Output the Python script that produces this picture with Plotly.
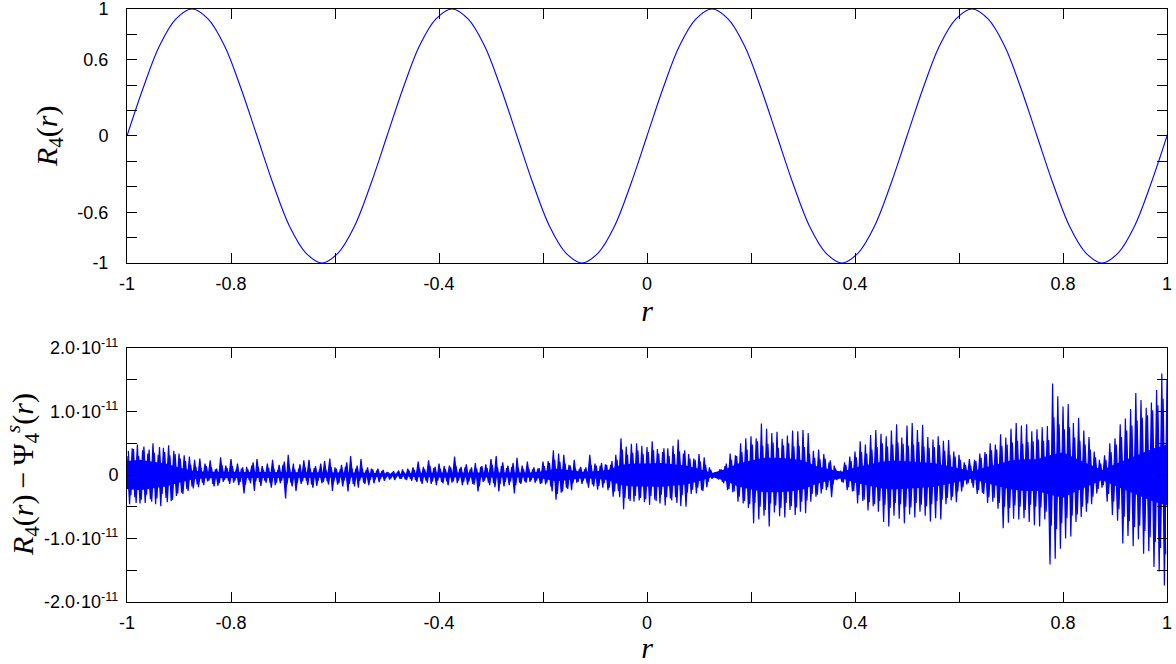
import plotly.graph_objects as go

# ---------------- data ----------------
# top panel: R_4(r), sampled every 1/32 in r
r_top = [round(-1 + k / 32, 6) for k in range(65)]
R4_vals = [
    0.00, 0.38, 0.71, 0.92, 1.00, 0.92, 0.71, 0.38, 0.00, -0.38, -0.71, -0.92, -1.00, -0.92, -0.71, -0.38,
    0.00, 0.38, 0.71, 0.92, 1.00, 0.92, 0.71, 0.38, 0.00, -0.38, -0.71, -0.92, -1.00, -0.92, -0.71, -0.38,
    0.00, 0.38, 0.71, 0.92, 1.00, 0.92, 0.71, 0.38, 0.00, -0.38, -0.71, -0.92, -1.00, -0.92, -0.71, -0.38,
    0.00, 0.38, 0.71, 0.92, 1.00, 0.92, 0.71, 0.38, 0.00, -0.38, -0.71, -0.92, -1.00, -0.92, -0.71, -0.38,
    0.00,
]

# bottom panel: R_4(r) - Psi_4^s(r), in units of 1e-12
UNIT = 1e-12
# samples on the grid r = -1, -0.995, ..., 1
r_err = [round(-1 + 0.005 * i, 6) for i in range(401)]
err_vals = [
    3.0, -4.6, 4.2, -3.5, 4.8, -4.5, 3.9, -4.4, 3.4, -3.8, 5.0, -4.6, 3.2, -4.9, 4.3, -3.6, 4.7, -4.1, 3.8, -3.3,
    3.4, -2.8, 3.1, -2.2, 2.9, -1.8, 2.4, -1.5, 2.6, -1.2, 1.8, -1.0, 2.3, -1.4, 0.9, -1.7, 2.8, -1.1, 1.5, -0.9,
    2.5, -1.2, 0.9, -1.6, 1.0, -2.9, 1.3, -0.8, 1.5, -2.5, 2.5, -1.1, 1.4, -0.9, 1.8, -1.2, 2.4, -1.6, 0.8, -1.3,
    1.6, -3.7, 3.2, -1.2, 1.8, -2.5, 1.0, -1.4, 2.3, -0.9, 2.4, -1.5, 1.1, -1.7, 0.8, -1.3, 2.2, -1.0, 2.6, -2.5,
    1.2, -1.5, 0.9, -1.8, 1.3, -2.6, 3.0, -1.4, 1.0, -2.0, 2.5, -1.2, 0.8, -1.6, 1.0, -1.3, 0.7, -1.1, 0.6, -0.9,
    0.5, -0.7, 0.4, -0.8, 0.5, -0.6, 0.9, -0.7, 1.0, -0.6, 1.2, -0.8, 2.1, -1.0, 1.3, -0.9, 2.3, -1.4, 1.1, -1.6,
    1.8, -1.1, 1.4, -1.0, 1.5, -1.2, 2.9, -1.3, 1.0, -1.6, 1.2, -1.5, 0.9, -1.4, 1.9, -2.6, 1.3, -1.1, 1.7, -1.2,
    2.5, -1.3, 3.0, -2.6, 1.4, -1.8, 1.1, -1.6, 1.3, -2.9, 2.7, -1.2, 1.5, -1.0, 2.1, -1.1, 0.9, -1.2, 1.0, -1.4,
    2.1, -1.5, 2.2, -1.8, 3.9, -3.9, 3.4, -2.8, 3.2, -2.0, 1.6, -2.4, 2.4, -1.2, 1.0, -1.4, 0.9, -1.3, 3.2, -1.5,
    1.8, -2.3, 1.5, -2.0, 1.7, -2.4, 1.6, -3.4, 3.2, -2.5, 5.8, -5.4, 4.5, -3.8, 4.9, -4.2, 5.0, -4.0, 4.6, -4.3,
    4.4, -4.7, 5.3, -3.9, 4.1, -4.5, 3.6, -4.8, 4.2, -3.7, 4.6, -3.5, 5.6, -4.9, 3.4, -5.0, 3.3, -3.0, 2.6, -2.9,
    3.3, -2.4, 2.8, -1.9, 1.2, -0.6, 0.3, -0.5, 0.9, -1.1, 1.4, -2.4, 3.4, -2.7, 3.1, -4.2, 5.0, -4.5, 5.8, -5.2,
    6.1, -7.6, 5.8, -7.0, 8.1, -6.4, 7.3, -8.1, 6.6, -5.9, 6.8, -6.5, 5.7, -6.7, 6.2, -5.5, 7.0, -6.3, 6.9, -5.8,
    7.1, -6.0, 6.6, -4.2, 3.8, -3.4, 4.0, -2.9, 3.3, -2.4, 2.0, -3.5, 1.5, -0.8, 0.5, -1.1, 2.0, -2.4, 2.9, -2.6,
    3.7, -4.5, 5.3, -4.1, 4.8, -5.6, 6.3, -4.9, 7.1, -5.8, 6.5, -7.4, 6.1, -8.1, 7.0, -6.4, 8.0, -6.9, 5.9, -7.6,
    7.8, -6.2, 8.2, -6.7, 7.1, -5.8, 7.9, -6.4, 6.0, -7.3, 5.6, -6.8, 6.1, -7.0, 5.4, -4.6, 5.5, -4.0, 3.7, -4.3,
    3.2, -2.6, 2.0, -1.5, 2.5, -1.3, 2.4, -3.0, 3.4, -2.8, 3.6, -4.4, 5.0, -4.2, 4.8, -5.3, 6.4, -8.4, 5.9, -7.5,
    7.3, -6.9, 8.2, -7.0, 7.8, -6.8, 8.0, -7.4, 6.9, -7.9, 7.2, -8.1, 7.5, -7.0, 7.7, -14.1, 14.4, -13.2, 12.4, -11.6,
    10.8, -10.0, 11.2, -9.7, 8.2, -7.4, 9.0, -6.6, 7.0, -5.8, 6.0, -4.6, 3.7, -2.9, 2.4, -2.0, 3.1, -4.2, 5.0, -6.3,
    5.8, -7.2, 8.0, -10.8, 8.9, -9.6, 10.4, -11.2, 12.9, -10.1, 11.8, -12.4, 10.6, -12.0, 11.4, -14.5, 13.4, -15.2, 16.0, -17.4,
    15.0,
]
# samples on the intermediate grid r = -0.9975, -0.9925, ..., 0.9975
r_err_mid = [round(-0.9975 + 0.005 * i, 6) for i in range(400)]
err_mid_vals = [
    3.8, -3.2, 4.1, -4.4, 3.0, -3.9, 4.5, -3.1, 4.0, -4.2, 3.5, -3.7, 4.4, -3.0, 3.6, -4.3, 3.1, -3.9, 3.3, -2.9,
    2.6, -3.0, 2.2, -2.5, 1.6, -2.1, 1.3, -1.9, 1.1, -1.6, 1.4, -0.9, 1.2, -1.8, 1.0, -1.3, 1.6, -0.8, 1.1, -1.4,
    1.4, -0.9, 1.8, -1.1, 1.2, -1.5, 0.9, -1.3, 2.0, -1.0, 1.3, -1.7, 0.8, -1.2, 1.1, -2.0, 1.0, -1.2, 1.6, -0.9,
    2.1, -1.5, 1.2, -1.8, 0.9, -1.3, 1.7, -1.0, 1.2, -1.6, 1.0, -2.0, 1.4, -0.9, 1.8, -1.1, 0.8, -1.5, 1.3, -1.1,
    1.0, -1.3, 1.6, -0.9, 2.0, -1.4, 1.1, -1.8, 1.5, -0.9, 1.0, -1.4, 1.2, -0.8, 0.9, -0.7, 1.0, -0.6, 0.8, -0.5,
    0.4, -0.5, 0.6, -0.4, 0.7, -0.6, 0.5, -0.8, 0.7, -0.9, 0.8, -1.1, 1.0, -1.4, 0.9, -1.2, 1.5, -1.0, 1.3, -0.9,
    1.0, -1.3, 0.9, -1.6, 1.2, -1.0, 1.5, -0.9, 1.3, -1.1, 1.7, -1.0, 1.2, -1.5, 1.0, -1.8, 1.4, -0.9, 1.1, -1.6,
    1.6, -1.9, 1.2, -1.4, 2.0, -1.1, 1.5, -1.0, 1.9, -1.6, 1.1, -1.4, 0.9, -1.2, 1.0, -0.8, 1.2, -0.9, 1.1, -1.3,
    1.4, -1.2, 1.9, -2.6, 2.4, -3.0, 2.1, -2.6, 1.8, -2.2, 1.5, -1.3, 1.0, -1.1, 1.3, -0.9, 1.2, -2.0, 1.6, -1.8,
    1.5, -1.7, 1.9, -1.3, 1.6, -2.0, 2.2, -2.6, 2.4, -3.5, 4.0, -3.6, 3.2, -4.1, 3.5, -3.3, 3.9, -3.6, 3.3, -3.8,
    3.6, -3.3, 3.9, -4.1, 3.4, -3.1, 4.2, -3.5, 3.0, -4.0, 3.3, -4.4, 3.7, -3.2, 3.9, -2.8, 2.6, -2.3, 2.4, -2.0,
    2.1, -2.5, 1.6, -1.1, 0.8, -0.4, 0.4, -0.7, 0.9, -1.3, 1.8, -2.2, 2.4, -2.6, 3.0, -3.4, 3.6, -4.1, 4.0, -4.6,
    4.8, -4.4, 5.3, -5.0, 4.6, -5.5, 4.9, -4.5, 5.1, -4.8, 4.3, -5.2, 4.7, -4.4, 5.0, -4.9, 4.5, -5.1, 4.6, -4.2,
    4.4, -4.0, 3.3, -3.0, 2.7, -3.1, 2.5, -2.2, 2.6, -1.9, 2.3, -1.5, 1.0, -0.6, 0.7, -1.2, 1.6, -1.9, 2.2, -2.5,
    2.8, -3.2, 3.6, -3.9, 3.4, -4.3, 4.0, -4.6, 4.4, -4.1, 5.0, -4.7, 4.5, -5.2, 4.8, -4.4, 5.1, -4.6, 4.9, -5.0,
    4.6, -5.1, 4.8, -4.4, 5.2, -4.7, 4.5, -4.9, 4.3, -4.6, 4.4, -4.1, 4.7, -3.9, 3.8, -3.6, 3.2, -3.4, 2.9, -2.6,
    2.4, -1.9, 1.6, -1.3, 1.5, -2.0, 2.2, -2.4, 2.7, -3.0, 3.3, -3.5, 3.9, -3.6, 4.0, -4.4, 4.6, -5.0, 4.8, -5.2,
    5.1, -4.8, 5.4, -5.0, 4.9, -5.5, 5.2, -4.7, 5.3, -5.0, 5.6, -5.1, 5.4, -5.8, 5.5, -8.0, 9.1, -8.5, 8.0, -7.6,
    7.2, -6.8, 7.5, -6.4, 5.9, -6.2, 5.4, -5.0, 4.8, -4.5, 4.0, -3.4, 2.8, -2.2, 1.8, -1.6, 2.4, -3.0, 3.6, -4.2,
    4.8, -5.4, 6.0, -6.6, 7.0, -7.3, 7.8, -8.2, 8.6, -8.0, 9.0, -8.8, 9.4, -9.8, 10.2, -10.6, 11.0, -11.5, 12.0, -12.5,
]

# dense core of the error band (half-width, units of 1e-12), sampled every 0.025 in r
r_core = [round(-1 + 0.025 * i, 6) for i in range(81)]
core_half = [
    2.2, 2.4, 2.1, 1.8, 1.2, 0.7, 0.5, 0.5, 0.4, 0.5, 0.4, 0.4, 0.5, 0.4, 0.4, 0.4, 0.4, 0.4, 0.4, 0.3,
    0.2, 0.2, 0.3, 0.4, 0.4, 0.4, 0.4, 0.4, 0.5, 0.4, 0.5, 0.4, 0.6, 1.0, 0.8, 0.5, 0.6, 0.8, 1.6, 1.8,
    1.8, 1.9, 1.7, 1.5, 1.0, 0.3, 0.9, 1.8, 2.3, 2.7, 2.7, 2.6, 2.3, 1.4, 0.9, 0.5, 1.2, 1.7, 2.1, 2.3,
    2.2, 2.1, 1.9, 1.5, 1.0, 0.6, 1.2, 1.8, 2.3, 2.5, 2.5, 3.1, 3.6, 2.6, 1.7, 0.8, 1.7, 2.6, 3.4, 4.2,
    4.8,
]

# ticks
x_tickvals = [-1, -0.8, -0.6, -0.4, -0.2, 0, 0.2, 0.4, 0.6, 0.8, 1]
x_ticktext = ["-1", "-0.8", "", "-0.4", "", "0", "", "0.4", "", "0.8", "1"]
y1_tickvals = [-1, -0.8, -0.6, -0.4, -0.2, 0, 0.2, 0.4, 0.6, 0.8, 1]
y1_ticktext = ["-1", "", "-0.6", "", "", "0", "", "", "0.6", "", "1"]
y2_tickvals = [-2.0e-11, -1.5e-11, -1.0e-11, -0.5e-11, 0, 0.5e-11, 1.0e-11, 1.5e-11, 2.0e-11]
y2_ticktext = ["-2.0·10<sup>-11</sup>", "", "-1.0·10<sup>-11</sup>", "", "0", "",
               "1.0·10<sup>-11</sup>", "", "2.0·10<sup>-11</sup>"]

y1_title = "<i>R</i><sub>4</sub>(<i>r</i>)"
y2_title = "<i>R</i><sub>4</sub>(<i>r</i>)\u2009−\u2009Ψ<sub>4</sub><sup><i>s</i></sup>(<i>r</i>)"
x_title = "<i>r</i>"

BLUE = "#0000FF"
TICKFONT = dict(family="Liberation Sans, Arial, sans-serif", size=18, color="black")
TITLEFONT = dict(family="Liberation Serif, Times New Roman, serif", size=30, color="black")

fig = go.Figure()

fig.add_trace(go.Scatter(x=r_top, y=R4_vals, mode="lines", line=dict(color=BLUE, width=1.1, shape="spline"),
                         xaxis="x", yaxis="y", showlegend=False, hoverinfo="skip"))

fig.add_trace(go.Scatter(x=r_core, y=[v * UNIT for v in core_half], mode="lines", line=dict(width=0),
                         xaxis="x2", yaxis="y2", showlegend=False, hoverinfo="skip"))
fig.add_trace(go.Scatter(x=r_core, y=[-v * UNIT for v in core_half], mode="lines", line=dict(width=0),
                         fill="tonexty", fillcolor=BLUE,
                         xaxis="x2", yaxis="y2", showlegend=False, hoverinfo="skip"))
fig.add_trace(go.Scatter(x=r_err_mid, y=[v * UNIT for v in err_mid_vals], mode="lines",
                         line=dict(color=BLUE, width=1.2), fill="tozeroy", fillcolor=BLUE,
                         xaxis="x2", yaxis="y2", showlegend=False, hoverinfo="skip"))
fig.add_trace(go.Scatter(x=r_err, y=[v * UNIT for v in err_vals], mode="lines",
                         line=dict(color=BLUE, width=1.2), fill="tozeroy", fillcolor=BLUE,
                         xaxis="x2", yaxis="y2", showlegend=False, hoverinfo="skip"))

axis_common = dict(showgrid=False, zeroline=False, showline=True, linecolor="black", linewidth=1,
                   mirror="ticks", ticks="inside", ticklen=10, tickwidth=1, tickcolor="black",
                   tickfont=TICKFONT, tickmode="array", automargin=False, ticklabeloverflow="allow")

TOP_DOMAIN = [0.5717, 1]
BOT_DOMAIN = [0, 0.4283]

fig.update_layout(
    width=1176, height=664,
    margin=dict(l=127, r=9, t=9, b=62, autoexpand=False),
    paper_bgcolor="white", plot_bgcolor="white",
    xaxis=dict(axis_common, domain=[0, 1], anchor="y", range=[-1, 1],
               tickvals=x_tickvals, ticktext=x_ticktext, ticklabelstandoff=4,
               title=dict(text=x_title, font=TITLEFONT, standoff=4)),
    yaxis=dict(axis_common, domain=TOP_DOMAIN, anchor="x", range=[-1, 1],
               tickvals=y1_tickvals, ticktext=y1_ticktext, ticklabelstandoff=14),
    xaxis2=dict(axis_common, domain=[0, 1], anchor="y2", range=[-1, 1],
                tickvals=x_tickvals, ticktext=x_ticktext, ticklabelstandoff=4,
                title=dict(text=x_title, font=TITLEFONT, standoff=2)),
    yaxis2=dict(axis_common, domain=BOT_DOMAIN, anchor="x2", range=[-2.0e-11, 2.0e-11],
                tickvals=y2_tickvals, ticktext=y2_ticktext, ticklabelstandoff=4),
    annotations=[
        dict(text=y1_title, font=TITLEFONT, textangle=-90, showarrow=False,
             xref="paper", yref="paper", x=0, y=sum(TOP_DOMAIN) / 2,
             xanchor="center", yanchor="middle", xshift=-78),
        dict(text=y2_title, font=TITLEFONT, textangle=-90, showarrow=False,
             xref="paper", yref="paper", x=0, y=sum(BOT_DOMAIN) / 2,
             xanchor="center", yanchor="middle", xshift=-105),
    ],
)

fig.write_html("out.html", config={"displayModeBar": False},
               post_script="document.body.style.margin='0px';")
